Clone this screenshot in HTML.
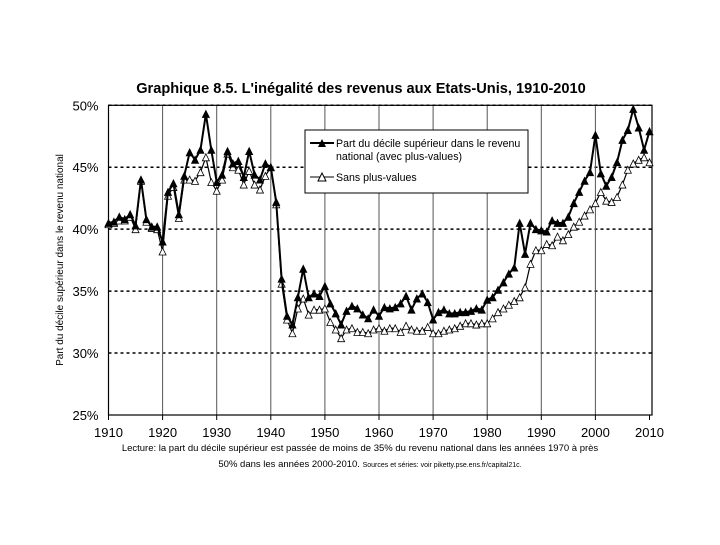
<!DOCTYPE html>
<html><head><meta charset="utf-8"><style>
body{margin:0;background:#fff;width:720px;height:540px;overflow:hidden;font-family:"Liberation Sans",sans-serif}
</style></head><body>
<svg id="c" width="720" height="540" xmlns="http://www.w3.org/2000/svg" font-family="Liberation Sans, sans-serif">
<text x="361" y="93" text-anchor="middle" font-size="14.6" font-weight="bold">Graphique 8.5. L'inégalité des revenus aux Etats-Unis, 1910-2010</text>
<text transform="translate(63,260) rotate(-90)" text-anchor="middle" font-size="10">Part du décile supérieur dans le revenu national</text>
<text x="360" y="451" text-anchor="middle" font-size="9.5">Lecture: la part du décile supérieur est passée de moins de 35% du revenu national dans les années 1970 à près</text>
<text x="370" y="467" text-anchor="middle" font-size="9.5">50% dans les années 2000-2010. <tspan font-size="7">Sources et séries: voir piketty.pse.ens.fr/capital21c.</tspan></text>
<g id="grid"></g><g id="axes"></g><g id="series"></g>
<g>
<rect x="305" y="130" width="223" height="63" fill="#fff" stroke="#000" stroke-width="1"/>
<line x1="310" y1="143" x2="334" y2="143" stroke="#000" stroke-width="2"/>
<polygon points="318,147 322,139 326,147" fill="#000"/>
<text x="336" y="147" font-size="10.6">Part du décile supérieur dans le revenu</text>
<text x="336" y="160" font-size="10.6">national (avec plus-values)</text>
<line x1="310" y1="177" x2="334" y2="177" stroke="#000" stroke-width="1"/>
<polygon points="318,181 322,173 326,181" fill="#fff" stroke="#000"/>
<text x="336" y="181" font-size="10.6">Sans plus-values</text>
</g>
</svg>
<script>
const years=[];for(let y=1910;y<=2010;y++)years.push(y);
const withGains=[40.5,40.6,41.0,40.8,41.2,40.3,44.0,40.8,40.2,40.2,39.0,43.0,43.7,41.2,44.3,46.2,45.6,46.4,49.3,46.4,43.8,44.4,46.3,45.3,45.5,44.2,46.3,44.4,44.0,45.3,45.0,42.2,36.0,33.0,32.3,34.5,36.8,34.5,34.8,34.6,35.4,34.0,33.2,32.3,33.4,33.8,33.6,33.1,32.8,33.5,33.0,33.7,33.6,33.7,34.0,34.6,33.5,34.4,34.8,34.1,32.7,33.3,33.5,33.2,33.2,33.3,33.3,33.4,33.6,33.5,34.3,34.5,35.1,35.7,36.4,36.9,40.5,38.0,40.5,40.0,39.9,39.8,40.7,40.5,40.5,41.0,42.1,43.0,43.9,44.6,47.6,44.5,43.5,44.2,45.4,47.2,48.0,49.7,48.2,46.4,47.9];
const withoutGains=[40.4,40.5,40.7,40.7,41.0,40.0,43.9,40.6,40.1,40.0,38.2,42.7,43.4,40.9,44.0,44.0,43.9,44.6,45.8,43.8,43.1,44.0,46.1,45.0,44.8,43.6,44.7,43.6,43.2,44.3,45.0,42.0,35.6,32.7,31.6,33.6,34.4,33.1,33.5,33.5,33.6,32.5,31.9,31.2,31.9,32.0,31.7,31.7,31.6,31.9,32.0,31.8,32.0,32.0,31.7,32.2,31.9,31.8,31.8,32.1,31.6,31.6,31.8,31.9,32.0,32.2,32.4,32.4,32.3,32.4,32.4,32.8,33.3,33.6,33.9,34.2,34.5,35.3,37.2,38.3,38.3,38.8,38.7,39.4,39.1,39.6,40.2,40.6,41.1,41.6,42.1,43.0,42.3,42.2,42.6,43.6,44.8,45.3,45.6,45.8,45.4,46.3];
const yTicks=[25,30,35,40,45,50];
const xTicks=[1910,1920,1930,1940,1950,1960,1970,1980,1990,2000,2010];
const NS='http://www.w3.org/2000/svg';
const L=108.5,R=652,T=105.3,B=415;
const X=y=>L+(y-1910)*5.41;
const Y=v=>T+(50-v)*(B-T)/25;
function mk(tag,at,parent){const e=document.createElementNS(NS,tag);for(const k in at)e.setAttribute(k,at[k]);document.getElementById(parent).appendChild(e);return e;}
yTicks.forEach(v=>{
 if(v>25){const g=mk('line',{x1:L,x2:R,y1:Y(v),y2:Y(v),stroke:'#000','stroke-width':1.5,'stroke-dasharray':'3,3'},'grid');
 
 }
 const t=mk('text',{x:L-10,y:Y(v)+5,'text-anchor':'end','font-size':13},'axes');t.textContent=v+'%';
 
 
});
xTicks.forEach(yr=>{
 const x=X(yr);
 if(yr>1910&&yr<2010){const g=mk('line',{x1:x,x2:x,y1:T,y2:B,stroke:'#555','stroke-width':1},'grid');
 
 }
 mk('line',{x1:x,x2:x,y1:B,y2:B+5,stroke:'#000'},'axes');
 const t=mk('text',{x:x,y:B+22,'text-anchor':'middle','font-size':13},'axes');t.textContent=yr;
 
 
});
const fr=mk('rect',{x:L,y:T,width:R-L,height:B-T,fill:'none',stroke:'#000','stroke-width':1.2},'axes');


function series(vals,filled,name){
 const p=mk('polyline',{points:vals.map((v,i)=>X(years[i])+','+Y(v)).join(' '),fill:'none',stroke:'#000','stroke-width':filled?2:1.2},'series');
 
 
 vals.forEach((v,i)=>{const x=X(years[i]),y=Y(v);
  const m=mk('polygon',{points:`${x-3.5},${y+3.5} ${x},${y-3.5} ${x+3.5},${y+3.5}`,fill:filled?'#000':'#fff',stroke:'#000','stroke-width':0.8},'series');
  
  
 });
}
series(withoutGains,false,'without-gains');
series(withGains,true,'with-gains');
</script>
</body></html>
